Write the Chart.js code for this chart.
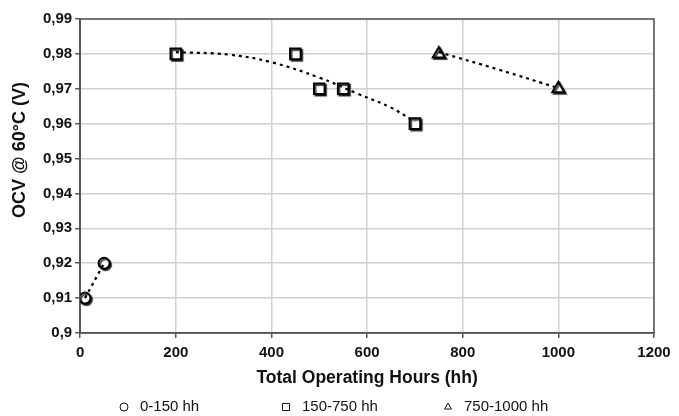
<!DOCTYPE html>
<html>
<head>
<meta charset="UTF-8">
<title>OCV vs operating hours</title>
<script src="https://cdn.jsdelivr.net/npm/chart.js"></script>
<style>
    html, body { margin: 0; padding: 0; background: #fff; }
    #box { width: 679px; height: 416px; }
</style>
</head>
<body>
<div id="box"><canvas id="myChart"></canvas></div>
<script>
    // measured points
    const hoursA = [10, 50];
    const ocvA = [0.91, 0.92];
    const hoursB = [200, 450, 500, 550, 700];
    const ocvB = [0.98, 0.98, 0.97, 0.97, 0.96];
    const hoursC = [750, 1000];
    const ocvC = [0.98, 0.97];

    // dotted trend lines
    const trendHoursB = [200, 310, 400, 500, 580, 650, 700];
    const trendOcvB = [0.9805, 0.9798, 0.9776, 0.9732, 0.9686, 0.9646, 0.9605];
    const trendHoursC = [750, 875, 1000];
    const trendOcvC = [0.9805, 0.9755, 0.9702];

    const seriesNames = ['0-150 hh', '150-750 hh', '750-1000 hh'];
    const seriesShapes = ['circle', 'rect', 'triangle'];
    const xTicks = [0, 200, 400, 600, 800, 1000, 1200];
    const yTitle = 'OCV @ 60°C (V)';
    const xTitle = 'Total Operating Hours (hh)';

    const FONT = 'Liberation Sans, Arial, sans-serif';

    const pts = (xs, ys) => xs.map((x, i) => ({ x: x, y: ys[i] }));

    const trendStyle = {
        showLine: true,
        borderColor: '#000',
        borderWidth: 2.2,
        borderDash: [3, 4],
        pointRadius: 0,
        fill: false,
        tension: 0.4,
        isTrend: true
    };
    const markStyle = {
        borderColor: '#000',
        backgroundColor: '#fff',
        borderWidth: 2,
        showLine: false
    };

    // frame + y title + legend, drawn like the original
    const extras = {
        id: 'extras',
        beforeDatasetsDraw(chart) {
            const a = chart.chartArea, ctx = chart.ctx;
            ctx.save();
            ctx.strokeStyle = '#555';
            ctx.lineWidth = 1.5;
            ctx.strokeRect(a.left, a.top, a.right - a.left, a.bottom - a.top);
            ctx.restore();
        },
        beforeDatasetDraw(chart, args) {
            const ds = chart.data.datasets[args.index];
            chart.ctx.save();
            if (!ds.isTrend) {
                chart.ctx.shadowColor = 'rgba(0,0,0,0.75)';
                chart.ctx.shadowOffsetX = 1.5;
                chart.ctx.shadowOffsetY = 1.5;
                chart.ctx.shadowBlur = 1;
            }
        },
        afterDatasetDraw(chart) {
            chart.ctx.restore();
        },
        afterDraw(chart) {
            const ctx = chart.ctx;
            ctx.save();
            ctx.fillStyle = '#111';
            ctx.font = 'bold 18px ' + FONT;
            ctx.textAlign = 'center';
            ctx.textBaseline = 'middle';
            ctx.translate(20, 150);
            ctx.rotate(-Math.PI / 2);
            ctx.fillText(yTitle, 0, 0);
            ctx.restore();

            ctx.save();
            ctx.font = '15px ' + FONT;
            ctx.fillStyle = '#111';
            ctx.textBaseline = 'middle';
            const y = 407;
            seriesNames.forEach((name, i) => {
                const x0 = 124 + i * 162;
                ctx.strokeStyle = '#111';
                ctx.fillStyle = '#fff';
                Chart.helpers.drawPoint(ctx, { pointStyle: seriesShapes[i], radius: seriesShapes[i] === 'rect' ? 5 : 4, borderWidth: 1.2 }, x0, y);
                ctx.fillStyle = '#111';
                ctx.fillText(name, x0 + 16, y);
            });
            ctx.restore();
        }
    };

    const tickFont = { family: FONT, size: 15, weight: 'bold' };

    new Chart(document.getElementById('myChart'), {
        type: 'scatter',
        data: {
            datasets: [
                Object.assign({ label: 't1', data: pts(hoursA, ocvA) }, trendStyle),
                Object.assign({ label: 't2', data: pts(trendHoursB, trendOcvB) }, trendStyle),
                Object.assign({ label: 't3', data: pts(trendHoursC, trendOcvC) }, trendStyle),
                Object.assign({ label: seriesNames[0], data: pts(hoursA, ocvA), pointStyle: seriesShapes[0], pointRadius: 5.5 }, markStyle),
                Object.assign({ label: seriesNames[1], data: pts(hoursB, ocvB), pointStyle: seriesShapes[1], pointRadius: 7.5 }, markStyle),
                Object.assign({ label: seriesNames[2], data: pts(hoursC, ocvC), pointStyle: seriesShapes[2], pointRadius: 7 }, markStyle)
            ]
        },
        options: {
            responsive: true,
            maintainAspectRatio: false,
            animation: false,
            layout: { padding: { left: 40, right: 25, top: 19, bottom: 27 } },
            scales: {
                x: {
                    type: 'linear',
                    min: 0, max: 1200,
                    afterBuildTicks: s => { s.ticks = xTicks.map(v => ({ value: v })); },
                    ticks: { color: '#111', font: tickFont, padding: 6, callback: v => String(v) },
                    grid: { color: '#d0d0d0', lineWidth: 1.5, tickColor: '#555', tickLength: 5 },
                    border: { color: '#555', width: 1.5 },
                    title: { display: true, text: xTitle, color: '#111',
                        font: { family: FONT, size: 17.5, weight: 'bold' }, padding: { top: 0, bottom: 0 } }
                },
                y: {
                    min: 0.9, max: 0.99,
                    ticks: {
                        stepSize: 0.01, color: '#111', font: tickFont, padding: 3,
                        callback: v => String(parseFloat(v.toFixed(2))).replace('.', ',')
                    },
                    grid: { color: '#d0d0d0', lineWidth: 1.5, tickColor: '#555', tickLength: 5 },
                    border: { color: '#555', width: 1.5 }
                }
            },
            plugins: {
                tooltip: { enabled: false },
                legend: { display: false }
            }
        },
        plugins: [extras]
    });
</script>
</body>
</html>
